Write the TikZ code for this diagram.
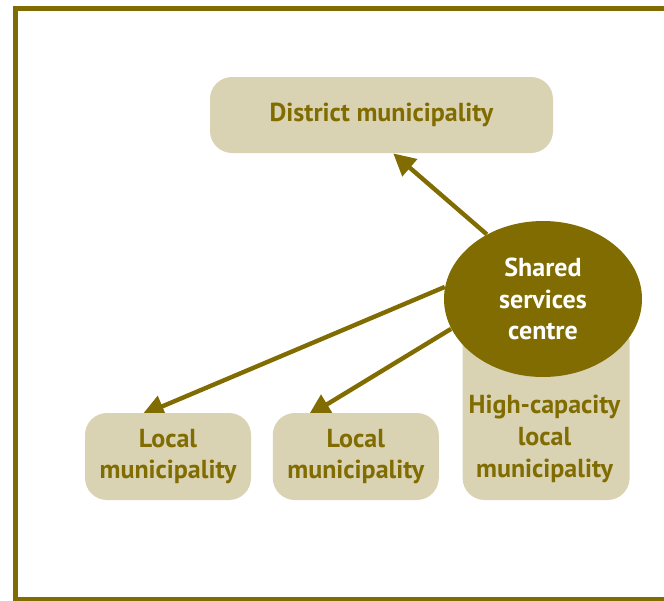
\documentclass[tikz,border=0pt]{standalone}
\usepackage{fontspec}
\setmainfont{PT Sans}
\usetikzlibrary{positioning,shapes.geometric,arrows.meta,backgrounds}
\definecolor{darkolive}{RGB}{128,108,0}
\definecolor{paleolive}{RGB}{217,211,180}
\tikzset{
	unitbox/.style={fill=paleolive, rounded corners=11pt, text=darkolive, inner sep=0pt,
		font=\bfseries\fontsize{13}{15.8}\selectfont, align=center},
	unittext/.style={text=darkolive, inner sep=0pt,
		font=\bfseries\fontsize{13}{15.8}\selectfont, align=center},
	centre/.style={ellipse, fill=darkolive, text=white, inner sep=0pt,
		font=\bfseries\fontsize{13}{15.8}\selectfont, align=center},
	link/.style={draw=darkolive, line width=2.2pt, -{Triangle[length=11pt,width=11pt]}},
}

\begin{document}
\begin{tikzpicture}[x=0.5pt,y=-0.5pt]
	\clip (0,0) rectangle (664,600);
	\draw[darkolive, line width=2.5pt] (15.5,8.5) rectangle (690,599.5);
	%% top level
	\node[unitbox, minimum width=171.5pt, minimum height=38pt] (district) at (381.5,115) {District municipality};
	%% local level
	\node[unitbox, minimum width=83pt, minimum height=43.5pt] (localA) at (168,456.5) {Local\\municipality};
	\node[unitbox, minimum width=83pt, minimum height=43.5pt, right=10.5pt of localA] (localB) {Local\\municipality};
	\node[unitbox, minimum width=83.5pt, minimum height=90pt, above right=0pt and 11.5pt of localB.south east] (highbox) {};
	\node[unittext] (high) at (544.5,439) {High-capacity\\local\\municipality};
	%% shared services
	\node[centre, minimum width=99pt, minimum height=78pt] (ssc) at (543,299) {Shared\\services\\centre};
	% arrows behind the boxes
	\begin{scope}[on background layer]
		\draw[link] (ssc.131) -- (district.-73);
		\draw[link, shorten >=-3pt] (ssc.173) -- (localA.115);
		\draw[link, shorten >=-3pt] (ssc.198) -- (localB.134);
	\end{scope}
\end{tikzpicture}
\end{document}
